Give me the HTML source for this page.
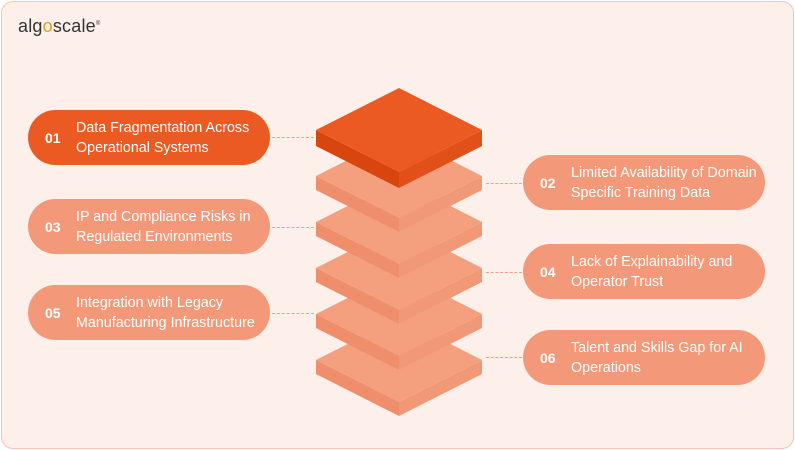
<!DOCTYPE html>
<html><head><meta charset="utf-8"><style>
body{margin:0;width:795px;height:450px;background:#fff;font-family:"Liberation Sans",sans-serif;overflow:hidden}
.card{position:absolute;left:1px;top:1px;width:791px;height:446px;background:#fdefe9;border:1px solid #f6c4b0;border-radius:12px}
.logo{position:absolute;left:18px;top:16px;font-size:18px;color:#333;letter-spacing:0.2px}
.logo sup{font-size:6px}
.pill{position:absolute;width:242px;height:55px;border-radius:28px;background:#f39878;color:#fff;font-size:14.3px;line-height:20px;display:flex;align-items:center}
.pill.dark{background:#ec5a24}
.pill .n{width:48px;padding-left:17px;box-sizing:border-box;font-weight:bold;font-size:14px;flex:none}
.dash{position:absolute;height:0;border-top:1px dashed #f0a085;width:42px}
</style></head><body>
<div class="card"></div>
<div class="logo">alg<span style="color:#e0a020">o</span>scale<sup>®</sup></div>
<svg style="position:absolute;left:0;top:0" width="795" height="450">
<g id="s"></g>
</svg>
<script>
(function(){
var g=document.getElementById('s'),h='';
for(var i=5;i>=0;i--){var t=88+46*i,cx=399,w=83,hh=42,th=(i==0?16:14);
var tc=i==0?'#ec5a24':'#f4a07f',l=i==0?'#d8450e':'#ee8e6b',r=i==0?'#e2501a':'#f19977';
h+='<polygon fill="'+l+'" points="'+(cx-w)+','+(t+hh)+' '+cx+','+(t+2*hh)+' '+cx+','+(t+2*hh+th)+' '+(cx-w)+','+(t+hh+th)+'"/>';
h+='<polygon fill="'+r+'" points="'+(cx+w)+','+(t+hh)+' '+cx+','+(t+2*hh)+' '+cx+','+(t+2*hh+th)+' '+(cx+w)+','+(t+hh+th)+'"/>';
h+='<polygon fill="'+tc+'" points="'+cx+','+t+' '+(cx+w)+','+(t+hh)+' '+cx+','+(t+2*hh)+' '+(cx-w)+','+(t+hh)+'"/>';}
g.innerHTML=h;
})();
</script>
<div class="dash" style="left:272px;top:137px"></div>
<div class="dash" style="left:272px;top:227px"></div>
<div class="dash" style="left:272px;top:313px"></div>
<div class="dash" style="left:486px;top:183px;width:36px"></div>
<div class="dash" style="left:486px;top:272px;width:36px"></div>
<div class="dash" style="left:486px;top:357px;width:36px"></div>
<div class="pill dark" style="left:28px;top:110px"><span class="n">01</span><span>Data Fragmentation Across<br>Operational Systems</span></div>
<div class="pill" style="left:28px;top:199px"><span class="n">03</span><span>IP and Compliance Risks in<br>Regulated Environments</span></div>
<div class="pill" style="left:28px;top:285px"><span class="n">05</span><span>Integration with Legacy<br>Manufacturing Infrastructure</span></div>
<div class="pill" style="left:523px;top:155px"><span class="n">02</span><span>Limited Availability of Domain<br>Specific Training Data</span></div>
<div class="pill" style="left:523px;top:244px"><span class="n">04</span><span>Lack of Explainability and<br>Operator Trust</span></div>
<div class="pill" style="left:523px;top:330px"><span class="n">06</span><span>Talent and Skills Gap for AI<br>Operations</span></div>
</body></html>
